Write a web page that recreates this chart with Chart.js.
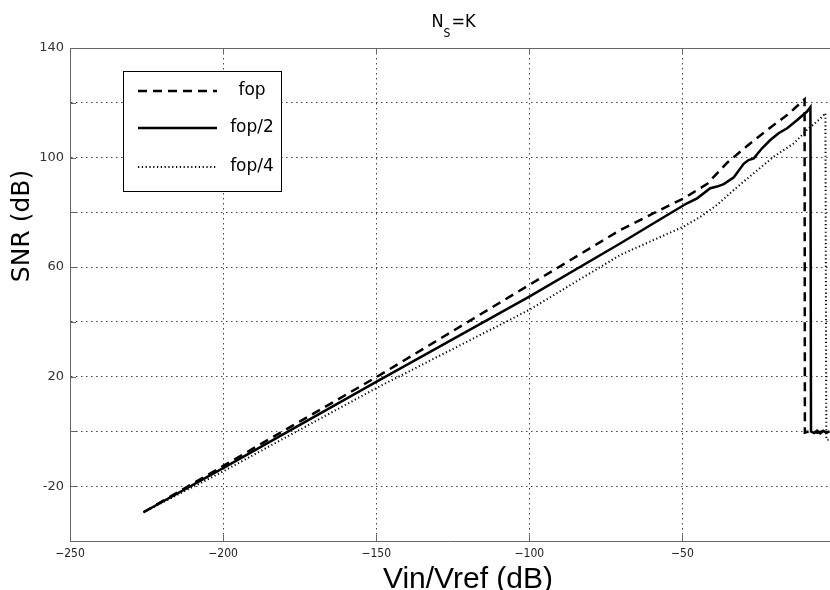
<!DOCTYPE html>
<html>
<head>
<meta charset="utf-8">
<script src="https://cdn.jsdelivr.net/npm/chart.js@4/dist/chart.umd.min.js"></script>
<style>
  html, body { margin: 0; padding: 0; background: #fff; }
  #wrap { width: 830px; height: 590px; position: relative; }
</style>
</head>
<body>
<div id="wrap"><canvas id="mycanvas" width="830" height="590"></canvas></div>
<script>
// series (x = Vin/Vref in dB, y = SNR in dB)
var fopX = [-226, -200, -150, -100, -70.2, -59.4, -49.6, -41.9, -35.4, -28.9, -22.3, -15.8, -10.1, -10.0, -8, -6, -4, -2];
var fopY = [-29.5, -12.6, 19.8, 53.5, 73.6, 79.7, 85.1, 90.4, 98.1, 104.2, 110.1, 115.5, 121.3, -0.4, 0.2, -0.5, 0.1, -0.2];

var fop2X = [-226, -200, -150, -100, -70.2, -59.4, -48.5, -45.2, -40.9, -38.7, -36.5, -33.2, -30.0, -28.4, -26.7, -24.0, -21.3, -18.6, -15.8, -12.5, -9.3, -8.2, -8.0, -7, -6, -5, -4, -3, -2];
var fop2Y = [-29.5, -13.4, 18.1, 49.2, 68.7, 76.0, 83.3, 85.1, 88.8, 89.4, 90.3, 92.8, 97.7, 99.1, 99.7, 103.4, 106.4, 108.9, 110.7, 113.7, 116.8, 118.4, 0, -0.6, 0.3, -0.7, 0.2, -0.5, 0];

var fop4X = [-226, -200, -150, -100, -70.2, -59.4, -49.6, -44.1, -38.7, -33.2, -26.7, -20.2, -13.6, -9.3, -4.9, -3.3, -3.0, -2];
var fop4Y = [-29.5, -14.6, 15.8, 44.4, 64.5, 69.9, 74.8, 78.4, 82.7, 88.2, 94.3, 100.3, 105.2, 110.1, 114.3, 116.2, -3, -3];

var seriesNames = ['fop', 'fop/2', 'fop/4'];
var xTicks = [-250, -200, -150, -100, -50];
var yLabelled = [140, 100, 60, 20, -20];

function pts(xs, ys) {
    return xs.map(function (x, i) { return {x: x, y: ys[i]}; });
}

var styles = [
    {width: 2.5, dash: [9, 6]},
    {width: 2.5, dash: []},
    {width: 2, dash: [1.2, 2.6]}
];

// title, axis titles, legend box, inner ticks, top border
var decor = {
    id: 'decor',
    afterDatasetsDraw: function (chart) {
        var ctx = chart.ctx, a = chart.chartArea;
        ctx.save();
        // top border
        ctx.strokeStyle = '#666';
        ctx.lineWidth = 1;
        ctx.beginPath();
        ctx.moveTo(a.left, a.top + 0.5);
        ctx.lineTo(a.right, a.top + 0.5);
        ctx.stroke();
        // inner ticks
        var xs = chart.scales.x, ys = chart.scales.y;
        ctx.beginPath();
        xTicks.forEach(function (v) {
            var px = Math.round(xs.getPixelForValue(v)) + 0.5;
            ctx.moveTo(px, a.bottom); ctx.lineTo(px, a.bottom - 6);
            ctx.moveTo(px, a.top); ctx.lineTo(px, a.top + 6);
        });
        for (var v = -40; v <= 140; v += 20) {
            var py = Math.round(ys.getPixelForValue(v)) + 0.5;
            ctx.moveTo(a.left, py); ctx.lineTo(a.left + 6, py);
        }
        ctx.stroke();

        // legend
        var bx = 123, by = 71, bw = 158, bh = 120;
        ctx.fillStyle = '#fff';
        ctx.fillRect(bx, by, bw, bh);
        ctx.strokeStyle = '#000';
        ctx.lineWidth = 1;
        ctx.strokeRect(bx + 0.5, by + 0.5, bw, bh);
        var rows = [91, 128, 167];
        ctx.font = '17px "DejaVu Sans"';
        ctx.textAlign = 'center';
        ctx.textBaseline = 'middle';
        rows.forEach(function (ry, i) {
            ctx.strokeStyle = '#000';
            ctx.lineWidth = styles[i].width;
            ctx.setLineDash(styles[i].dash);
            ctx.beginPath();
            ctx.moveTo(138, ry);
            ctx.lineTo(217, ry);
            ctx.stroke();
            ctx.setLineDash([]);
            ctx.fillStyle = '#000';
            ctx.fillText(seriesNames[i], 252, ry);
        });

        // title N_S=K
        ctx.textAlign = 'left';
        ctx.textBaseline = 'alphabetic';
        ctx.fillStyle = '#000';
        var big = '18px "Liberation Sans Narrow", "DejaVu Sans Condensed", sans-serif';
        var small = '12px "Liberation Sans Narrow", "DejaVu Sans Condensed", sans-serif';
        ctx.font = big;
        var wN = ctx.measureText('N').width, wK = ctx.measureText('=K').width;
        ctx.font = small;
        var wS = ctx.measureText('S').width;
        var tx = 453 - (wN + wS + wK) / 2;
        ctx.font = big;
        ctx.fillText('N', tx, 27);
        ctx.font = small;
        ctx.fillText('S', tx + wN, 37);
        ctx.font = big;
        ctx.fillText('=K', tx + wN + wS + 1, 27);

        // axis titles
        ctx.textAlign = 'center';
        ctx.font = '30px "Liberation Sans", sans-serif';
        ctx.fillText('Vin/Vref (dB)', 468, 588);
        ctx.save();
        ctx.translate(22, 226);
        ctx.rotate(-Math.PI / 2);
        ctx.textBaseline = 'middle';
        ctx.font = '25px "DejaVu Sans"';
        ctx.fillText('SNR (dB)', 0, 0);
        ctx.restore();
        ctx.restore();
    }
};

var chartdata = {
    datasets: [
        {label: seriesNames[0], data: pts(fopX, fopY)},
        {label: seriesNames[1], data: pts(fop2X, fop2Y)},
        {label: seriesNames[2], data: pts(fop4X, fop4Y)}
    ].map(function (d, i) {
        d.borderColor = '#000';
        d.borderWidth = styles[i].width;
        d.borderDash = styles[i].dash;
        d.pointRadius = 0;
        d.tension = 0;
        d.fill = false;
        return d;
    })
};

var ctx = document.getElementById('mycanvas');
var graph = new Chart(ctx, {
    type: 'line',
    data: chartdata,
    plugins: [decor],
    options: {
        responsive: false,
        animation: false,
        layout: {padding: {top: 48, right: 0, left: 0, bottom: 0}},
        plugins: {legend: {display: false}, tooltip: {enabled: false}, title: {display: false}},
        scales: {
            x: {
                type: 'linear',
                min: -250,
                max: -1.8,
                afterBuildTicks: function (scale) {
                    scale.ticks = xTicks.map(function (v) { return {value: v}; });
                },
                afterFit: function (scale) { scale.height = 49; },
                grid: {color: '#444', lineWidth: 1, drawTicks: false},
                border: {display: true, color: '#666', width: 1, dash: [1.5, 3.5]},
                ticks: {
                    autoSkip: false,
                    maxRotation: 0,
                    padding: 6,
                    color: '#222',
                    font: {family: '"Liberation Sans Narrow", "DejaVu Sans Condensed", sans-serif', size: 12},
                    callback: function (v) { return v < 0 ? '\u2212' + Math.abs(v) : String(v); }
                }
            },
            y: {
                type: 'linear',
                min: -40,
                max: 140,
                afterFit: function (scale) { scale.width = 70; },
                grid: {color: '#444', lineWidth: 1, drawTicks: false},
                border: {display: true, color: '#666', width: 1, dash: [1.5, 3.5]},
                ticks: {
                    stepSize: 20,
                    autoSkip: false,
                    padding: 6,
                    color: '#333',
                    font: {family: '"DejaVu Sans"', size: 13},
                    callback: function (v) { return yLabelled.indexOf(v) >= 0 ? String(v) : ''; }
                }
            }
        }
    }
});
</script>
</body>
</html>
